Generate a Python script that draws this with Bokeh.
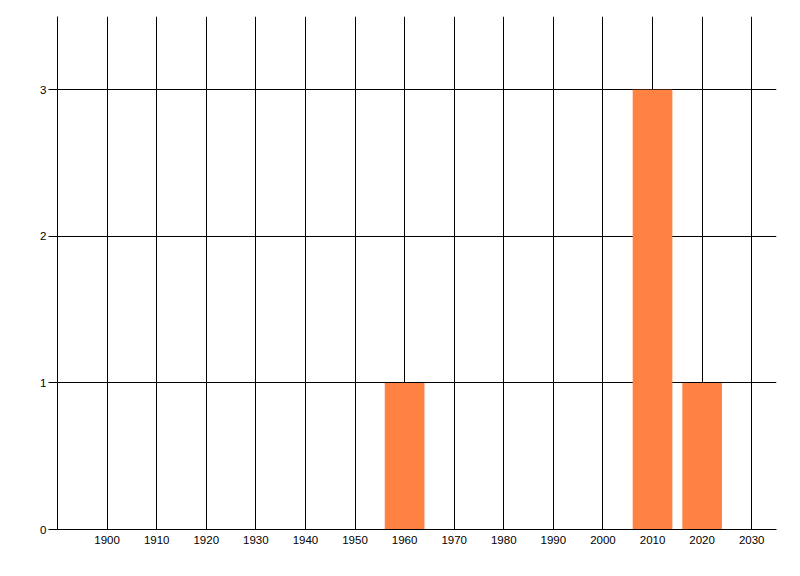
from bokeh.plotting import figure
from bokeh.models import Range1d, FixedTicker, ColumnDataSource
from bokeh.embed import file_html
from bokeh.resources import INLINE

years = [1960, 2010, 2020]
counts = [1, 3, 1]
x_ticks = [1900, 1910, 1920, 1930, 1940, 1950, 1960, 1970, 1980, 1990, 2000, 2010, 2020, 2030]
y_ticks = [0, 1, 2, 3]

src = ColumnDataSource(data=dict(x=years, top=counts))

p = figure(width=791, height=567, output_backend="svg", toolbar_location=None,
           x_range=Range1d(1890, 2035), y_range=Range1d(0, 3.5),
           min_border_left=57, min_border_right=15, min_border_top=16, min_border_bottom=38)
p.outline_line_color = None
p.background_fill_color = "white"
p.border_fill_color = "white"

p.vbar(x="x", top="top", bottom=0, width=8, source=src, fill_color="#FF8243", line_color=None)

p.xaxis.ticker = FixedTicker(ticks=x_ticks)
p.yaxis.ticker = FixedTicker(ticks=y_ticks)
for ax in (p.xaxis, p.yaxis):
    ax.axis_line_color = "black"
    ax.axis_line_width = 1
    ax.minor_tick_line_color = None
    ax.major_tick_line_color = "black"
    ax.major_label_text_font = "Liberation Sans"
    ax.major_label_text_font_size = "11.5px"
    ax.major_label_text_color = "black"
p.xaxis.major_tick_out = 0
p.xaxis.major_tick_in = 0
p.xaxis.major_label_standoff = 6
p.yaxis.major_tick_out = 9
p.yaxis.major_tick_in = 0
p.yaxis.major_label_standoff = 2

p.xgrid.ticker = FixedTicker(ticks=x_ticks)
p.ygrid.ticker = FixedTicker(ticks=[1, 2, 3])
for g in (p.xgrid, p.ygrid):
    g.grid_line_color = "black"
    g.grid_line_width = 1
    g.grid_line_alpha = 1.0

open("out.html", "w").write(file_html(p, INLINE))
